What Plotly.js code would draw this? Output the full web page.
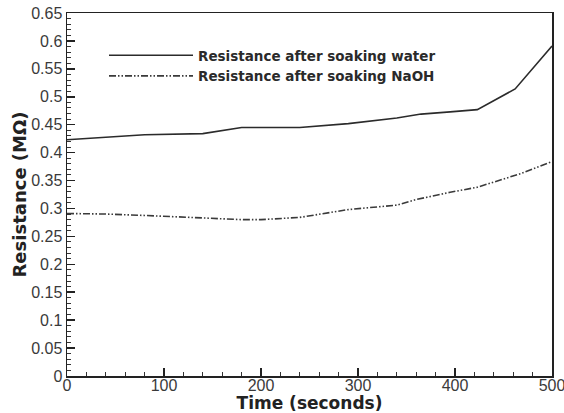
<!DOCTYPE html>
<html>
<head>
<meta charset="utf-8">
<script src="https://cdn.plot.ly/plotly-3.0.1.min.js"></script>
<style>html,body{margin:0;padding:0;background:#fff;}#chart{width:564px;height:413px;}</style>
</head>
<body>
<div id="chart"></div>
<script>
const waterTime = [0, 40, 80, 140, 180, 240, 290, 340, 365, 395, 423, 462, 500];
const waterRes  = [0.423, 0.428, 0.432, 0.434, 0.445, 0.445, 0.452, 0.462, 0.469, 0.473, 0.477, 0.514, 0.591];
const naohTime = [0, 40, 80, 130, 180, 200, 240, 290, 340, 360, 395, 423, 467, 500];
const naohRes  = [0.291, 0.290, 0.2875, 0.284, 0.280, 0.280, 0.284, 0.298, 0.306, 0.316, 0.329, 0.338, 0.362, 0.384];
const seriesNames = ['Resistance after soaking water', 'Resistance after soaking NaOH'];
const xTitle = 'Time (seconds)';
const yTitle = 'Resistance (MΩ)';

const traces = [
  {x: waterTime, y: waterRes, name: seriesNames[0], mode: 'lines',
   line: {color: '#2b2b2b', width: 1.6}},
  {x: naohTime, y: naohRes, name: seriesNames[1], mode: 'lines',
   line: {color: '#3a3a3a', width: 1.6, dash: '7px,2px,1.5px,2px,1.5px,2px'}}
];

const tickFont = {family: 'Arial, Liberation Sans, sans-serif', size: 16, color: '#3a3a3a'};
const boldFamily = 'DejaVu Sans, Arial, sans-serif';

const layout = {
  width: 564, height: 413,
  margin: {l: 67, r: 12, t: 13, b: 37},
  paper_bgcolor: '#fff', plot_bgcolor: '#fff',
  showlegend: true,
  legend: {x: 0.0763, y: 0.9256, xanchor: 'left', yanchor: 'top',
    bgcolor: 'rgba(0,0,0,0)', itemwidth: 84, tracegroupgap: 0,
    font: {family: boldFamily, size: 13.5, color: '#2a2a2a', weight: 'bold'}},
  xaxis: {
    range: [0, 500], dtick: 100, tick0: 0,
    ticks: 'inside', ticklen: 8, tickwidth: 1.5, tickcolor: '#222',
    minor: {dtick: 20, ticks: 'inside', ticklen: 4, tickcolor: '#333', tickwidth: 1},
    showline: true, linecolor: '#222', linewidth: 1.5, mirror: true,
    showgrid: false, zeroline: false,
    tickfont: tickFont, ticklabeloverflow: 'allow', ticklabelstandoff: -6,
    title: {text: xTitle, font: {family: boldFamily, size: 17, color: '#222', weight: 'bold'}, standoff: 5}
  },
  yaxis: {
    range: [0, 0.65], dtick: 0.05, tick0: 0,
    ticks: 'inside', ticklen: 8, tickwidth: 1.5, tickcolor: '#222',
    minor: {dtick: 0.01, ticks: 'inside', ticklen: 4, tickcolor: '#333', tickwidth: 1},
    showline: true, linecolor: '#222', linewidth: 1.5, mirror: true,
    showgrid: false, zeroline: false,
    tickfont: tickFont, ticklabeloverflow: 'allow',
    title: {text: yTitle, font: {family: boldFamily, size: 18, color: '#222', weight: 'bold'}, standoff: 0}
  }
};

Plotly.newPlot('chart', traces, layout, {displayModeBar: false, staticPlot: true});
</script>
</body>
</html>
